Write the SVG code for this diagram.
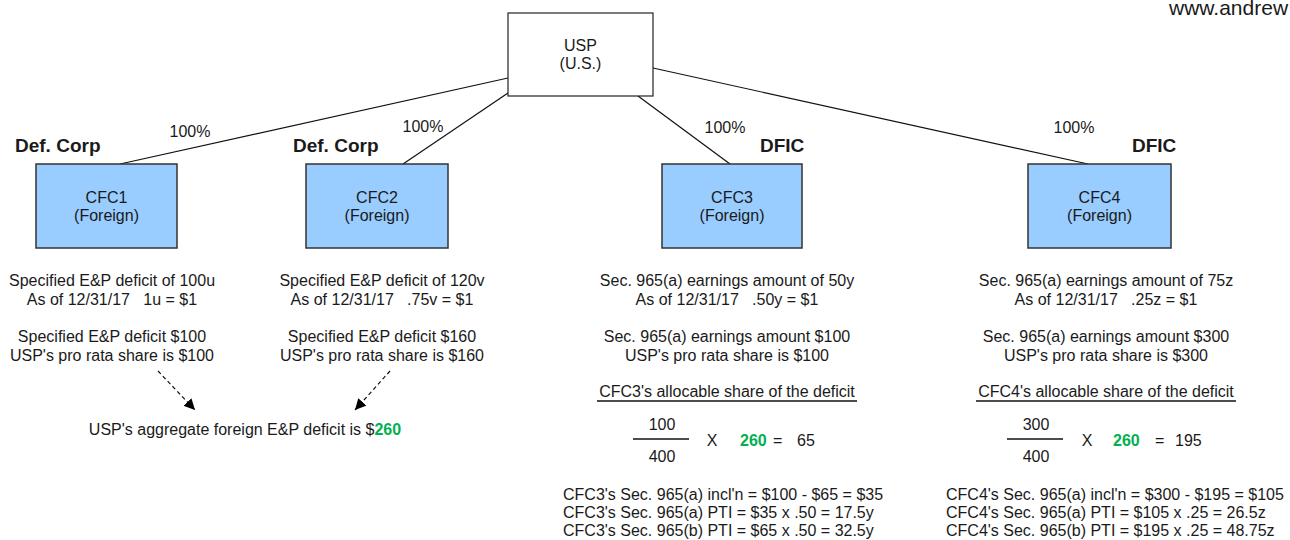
<svg xmlns="http://www.w3.org/2000/svg" width="1290" height="540" viewBox="0 0 1290 540">
<defs>
<style>
text{font-family:"Liberation Sans",Arial,sans-serif;font-size:16px;fill:#1a1a1a}
.c{text-anchor:middle}
.b{font-weight:bold;font-size:19px}
.g{font-weight:bold;fill:#00b050}
.cfc{fill:#99ccff;stroke:#333;stroke-width:1.5}
.usp{fill:#fff;stroke:#222;stroke-width:1.2}
.ln{stroke:#111;stroke-width:1.2;fill:none}
.ul{stroke:#111;stroke-width:1.6;fill:none}
.dash{stroke:#111;stroke-width:1.2;stroke-dasharray:4,3;fill:none}
</style>
<marker id="ah" viewBox="0 0 10 10" refX="10" refY="5" markerWidth="11" markerHeight="11" markerUnits="userSpaceOnUse" orient="auto">
<path d="M0,0 L10,5 L0,10 z" fill="#000"/>
</marker>
</defs>
<rect width="1290" height="540" fill="#fff"/>
<text x="1169" y="15" style="font-size:21px">www.andrew</text>

<g id="connectors">
<line class="ln" x1="120" y1="164" x2="508" y2="78"/>
<line class="ln" x1="403" y1="164" x2="508" y2="93"/>
<line class="ln" x1="638" y1="96" x2="730" y2="164"/>
<line class="ln" x1="653" y1="68" x2="1088" y2="164"/>
<line class="dash" x1="158" y1="371" x2="195" y2="410" marker-end="url(#ah)"/>
<line class="dash" x1="390" y1="371" x2="355" y2="410" marker-end="url(#ah)"/>
</g>

<g id="labels">
<text class="c" x="190" y="137">100%</text>
<text class="c" x="423" y="132">100%</text>
<text class="c" x="725" y="133">100%</text>
<text class="c" x="1074" y="133">100%</text>
<text class="b" x="15" y="152">Def. Corp</text>
<text class="b" x="293" y="152">Def. Corp</text>
<text class="b" x="760" y="152">DFIC</text>
<text class="b" x="1132" y="152">DFIC</text>
</g>

<g id="usp">
<rect class="usp" x="508" y="13" width="145" height="83"/>
<text class="c" x="580.5" y="51">USP</text>
<text class="c" x="580.5" y="69">(U.S.)</text>
</g>

<g id="cfc1">
<rect class="cfc" x="36" y="164" width="141" height="84"/>
<text class="c" x="106.5" y="203">CFC1</text>
<text class="c" x="106.5" y="221">(Foreign)</text>
</g>
<g id="cfc2">
<rect class="cfc" x="306" y="164" width="142" height="84"/>
<text class="c" x="377" y="203">CFC2</text>
<text class="c" x="377" y="221">(Foreign)</text>
</g>
<g id="cfc3">
<rect class="cfc" x="662" y="164" width="140" height="84"/>
<text class="c" x="732" y="203">CFC3</text>
<text class="c" x="732" y="221">(Foreign)</text>
</g>
<g id="cfc4">
<rect class="cfc" x="1028" y="164" width="143" height="84"/>
<text class="c" x="1099.5" y="203">CFC4</text>
<text class="c" x="1099.5" y="221">(Foreign)</text>
</g>

<g id="cfc1-notes">
<text class="c" x="112" y="286">Specified E&amp;P deficit of 100u</text>
<text class="c" x="112" y="305" xml:space="preserve">As of 12/31/17   1u = $1</text>
<text class="c" x="112" y="342">Specified E&amp;P deficit $100</text>
<text class="c" x="112" y="361">USP's pro rata share is $100</text>
</g>
<g id="cfc2-notes">
<text class="c" x="382" y="286">Specified E&amp;P deficit of 120v</text>
<text class="c" x="382" y="305" xml:space="preserve">As of 12/31/17   .75v = $1</text>
<text class="c" x="382" y="342">Specified E&amp;P deficit $160</text>
<text class="c" x="382" y="361">USP's pro rata share is $160</text>
</g>
<g id="aggregate">
<text class="c" x="245" y="435">USP's aggregate foreign E&amp;P deficit is $<tspan class="g">260</tspan></text>
</g>

<g id="cfc3-notes">
<text class="c" x="727" y="286">Sec. 965(a) earnings amount of 50y</text>
<text class="c" x="727" y="305" xml:space="preserve">As of 12/31/17   .50y = $1</text>
<text class="c" x="727" y="342">Sec. 965(a) earnings amount $100</text>
<text class="c" x="727" y="361">USP's pro rata share is $100</text>
<text class="c" x="727" y="397">CFC3's allocable share of the deficit</text>
<line class="ul" x1="597" y1="401" x2="857" y2="401"/>
<text class="c" x="662" y="430">100</text>
<line x1="633" y1="439" x2="689" y2="439" stroke="#111" stroke-width="1.6"/>
<text class="c" x="662" y="462">400</text>
<text class="c" x="712" y="446">X</text>
<text x="740" y="446" class="g">260</text>
<text x="773" y="446">=</text>
<text x="797" y="446">65</text>
<text x="563" y="500">CFC3's Sec. 965(a) incl'n = $100 - $65 = $35</text>
<text x="563" y="518">CFC3's Sec. 965(a) PTI = $35 x .50 = 17.5y</text>
<text x="563" y="536">CFC3's Sec. 965(b) PTI = $65 x .50 = 32.5y</text>
</g>

<g id="cfc4-notes">
<text class="c" x="1106" y="286">Sec. 965(a) earnings amount of 75z</text>
<text class="c" x="1106" y="305" xml:space="preserve">As of 12/31/17   .25z = $1</text>
<text class="c" x="1106" y="342">Sec. 965(a) earnings amount $300</text>
<text class="c" x="1106" y="361">USP's pro rata share is $300</text>
<text class="c" x="1106" y="397">CFC4's allocable share of the deficit</text>
<line class="ul" x1="976" y1="401" x2="1236" y2="401"/>
<text class="c" x="1036" y="430">300</text>
<line x1="1007" y1="439" x2="1063" y2="439" stroke="#111" stroke-width="1.6"/>
<text class="c" x="1036" y="462">400</text>
<text class="c" x="1087" y="446">X</text>
<text x="1113" y="446" class="g">260</text>
<text x="1155" y="446">=</text>
<text x="1175" y="446">195</text>
<text x="946" y="500">CFC4's Sec. 965(a) incl'n = $300 - $195 = $105</text>
<text x="946" y="518">CFC4's Sec. 965(a) PTI = $105 x .25 = 26.5z</text>
<text x="946" y="536">CFC4's Sec. 965(b) PTI = $195 x .25 = 48.75z</text>
</g>
</svg>
